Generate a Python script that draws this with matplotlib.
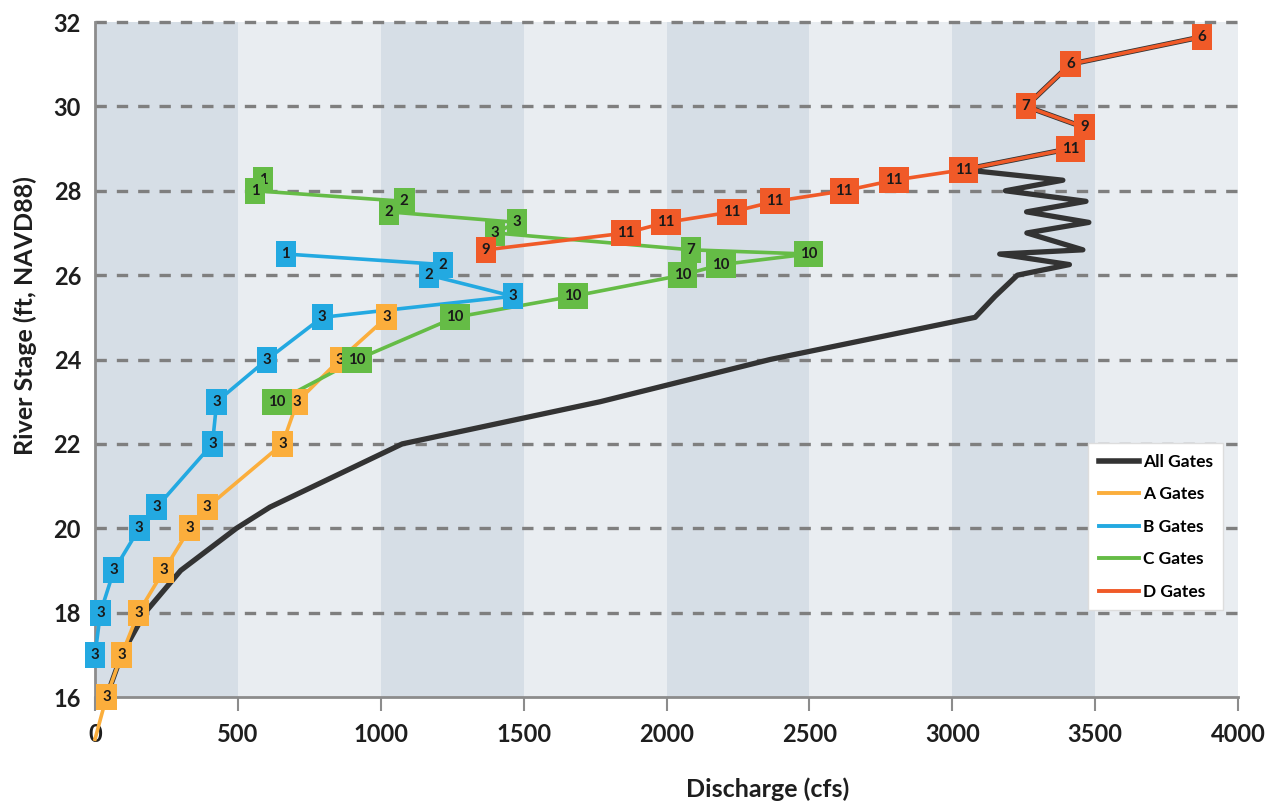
import numpy as np
import matplotlib
matplotlib.use('Agg')
import matplotlib.pyplot as plt
from matplotlib.lines import Line2D

plt.rcParams['font.family'] = ['Lato', 'DejaVu Sans']
plt.rcParams['font.weight'] = 'bold'

# values (discharge in cfs, stage in ft)
all_q = [40, 93, 175, 300, 495, 612, 1075, 1768, 2362, 3080, 3150, 3228, 3410, 3166, 3457,
         3261, 3478, 3260, 3468, 3186, 3387, 3040, 3413, 3462, 3258, 3413, 3874]
all_h = [16, 17, 18, 19, 20, 20.5, 22, 23, 24, 25, 25.5, 26, 26.25, 26.5, 26.6,
         27, 27.25, 27.5, 27.75, 28, 28.25, 28.5, 29, 29.5, 30, 31, 31.65]

a_q = [0, 40, 93, 152, 241, 332, 393, 656, 708, 857, 1021]
a_h = [15, 16, 17, 18, 19, 20, 20.5, 22, 23, 24, 25]
a_lab = ['', '3', '3', '3', '3', '3', '3', '3', '3', '3', '3']

b_q = [0, 19, 66, 155, 216, 411, 426, 602, 795, 1463, 1169, 1218, 668]
b_h = [17, 18, 19, 20, 20.5, 22, 23, 24, 25, 25.5, 26, 26.25, 26.5]
b_lab = ['3', '3', '3', '3', '3', '3', '3', '3', '3', '3', '2', '2', '1']

c_q = [637, 917, 1260, 1673, 2055, 2191, 2496, 2086, 1400, 1477, 1029, 1082, 560, 588]
c_h = [23, 24, 25, 25.5, 26, 26.25, 26.5, 26.6, 27, 27.25, 27.5, 27.75, 28, 28.25]
c_lab = ['10', '10', '10', '10', '10', '10', '10', '7', '3', '3', '2', '2', '1', '1']

d_q = [1368, 1859, 1999, 2230, 2380, 2622, 2796, 3040, 3413, 3462, 3258, 3413, 3874]
d_h = [26.6, 27, 27.25, 27.5, 27.75, 28, 28.25, 28.5, 29, 29.5, 30, 31, 31.65]
d_lab = ['9', '11', '11', '11', '11', '11', '11', '11', '11', '9', '7', '6', '6']

names = ['All Gates', 'A Gates', 'B Gates', 'C Gates', 'D Gates']
colors = ['#333333', '#FBAE3C', '#23A9E1', '#65BC46', '#F05A28']

fig = plt.figure(figsize=(12.82, 8.06), dpi=100)
ax = fig.add_axes([0.0741, 0.1352, 0.8916, 0.8375])
ax.set_xlim(0, 4000)
ax.set_ylim(16, 32)

# alternating background bands
for i, x0 in enumerate(np.arange(0, 4000, 500)):
    ax.axvspan(x0, x0 + 500, color='#d6dee6' if i % 2 == 0 else '#e9edf1', lw=0, zorder=0)

for y in np.arange(18, 33, 2):
    ax.axhline(y, color='#7f7f7f', lw=2.4, dashes=(3.4, 3.0), zorder=1, clip_on=False)

ax.plot(all_q, all_h, color=colors[0], lw=3.8, zorder=3, solid_capstyle='round')

series = [(a_q, a_h, a_lab), (b_q, b_h, b_lab), (c_q, c_h, c_lab), (d_q, d_h, d_lab)]
for k, (q, h, lab) in enumerate(series):
    col = colors[k + 1]
    ax.plot(q, h, color=col, lw=2.6, zorder=4 + k, clip_on=False)
    for x, y, s in reversed(list(zip(q, h, lab))):
        if s:
            ax.text(x, y, s, ha='center', va='center', fontsize=10.8, color='#1a1a1a',
                    bbox=dict(boxstyle='square,pad=0.4', fc=col, ec='none'),
                    zorder=10 + k)

for side in ['top', 'right']:
    ax.spines[side].set_visible(False)
for side in ['left', 'bottom']:
    ax.spines[side].set_color('#8c8c8c')
    ax.spines[side].set_linewidth(2)
    ax.spines[side].set_zorder(2)

ax.set_xticks(np.arange(0, 4001, 500))
ax.set_yticks(np.arange(16, 33, 2))
ax.tick_params(axis='x', length=10, width=1.5, color='#8c8c8c', pad=9,
               labelsize=17, labelcolor='#1e1e1e')
ax.tick_params(axis='y', length=0, pad=10, labelsize=17, labelcolor='#1e1e1e')

handles = [Line2D([], [], color=c, lw=4 if i == 0 else 2.8) for i, c in enumerate(colors)]
ax.legend(handles, names, loc='upper left', bbox_to_anchor=(0.869, 0.376),
          frameon=True, fancybox=False, edgecolor='#dddddd', facecolor='white',
          framealpha=1, prop=dict(family='Lato', weight='bold', size=12.5),
          handlelength=2.3, handletextpad=0.25, labelspacing=0.95,
          borderpad=0.6, borderaxespad=0)

fig.text(0.599, 0.021, 'Discharge (cfs)', ha='center', va='center', fontsize=18, color='#1e1e1e')
fig.text(0.0195, 0.609, 'River Stage (ft, NAVD88)', ha='center', va='center',
         rotation=90, fontsize=18, color='#1e1e1e')

fig.savefig('out.png', dpi=100)
